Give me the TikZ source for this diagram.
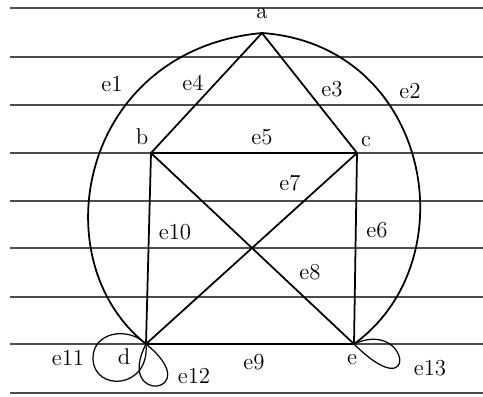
\documentclass[tikz,border=0pt]{standalone}
\usepackage{tikz}
\begin{document}
\begin{tikzpicture}[x=0.02cm, y=-0.02cm,
    rule/.style={line width=1.1pt, black!70},
    edge/.style={line width=1pt},
    loopedge/.style={line width=0.7pt},
    lbl/.style={font=\fontsize{13}{15}\selectfont, inner sep=0pt}]
  \useasboundingbox[fill=white] (0,0) rectangle (483,396);

  % ruled paper
  \foreach \y in {8,57,105,153,201,248,297,344,393}
    \draw[rule] (10,\y) -- (483,\y);

  \coordinate (a) at (262,33);
  \coordinate (b) at (151,153);
  \coordinate (c) at (357,153);
  \coordinate (d) at (146,344);
  \coordinate (e) at (354,344);

  % outer arcs
  \draw[edge] (d) .. controls (40,260) and (80,50) .. (a);
  \draw[edge] (a) .. controls (430,45) and (470,260) .. (e);

  \draw[edge] (a) -- (b);
  \draw[edge] (a) -- (c);
  \draw[edge] (b) -- (c);
  \draw[edge] (b) -- (d);
  \draw[edge] (c) -- (e);
  \draw[edge] (c) -- (d);
  \draw[edge] (b) -- (e);
  \draw[edge] (d) -- (e);

  % self loops
  \draw[loopedge] (d) .. controls +(-18,-18) and +(0,-26) .. (93,358)
    .. controls +(0,34) and +(4,46) .. (d);
  \draw[loopedge] (d) .. controls +(-32,62) and +(62,50) .. (d);
  \draw[loopedge] (e) .. controls +(56,-26) and +(66,66) .. (e);

  % vertex labels
  \node[lbl] (la) at (262,14) {a};
  \node[lbl] (lb) at (142,137) {b};
  \node[lbl] (lc) at (366,142) {c};
  \node[lbl] (ld) at (124,357) {d};
  \node[lbl] (le) at (352,360) {e};

  % edge labels
  \node[lbl] (e1) at (112,84) {e1};
  \node[lbl] (e2) at (410,91) {e2};
  \node[lbl] (e3) at (332,89) {e3};
  \node[lbl] (e4) at (193,83) {e4};
  \node[lbl] (e5) at (262,137) {e5};
  \node[lbl] (e6) at (377,230) {e6};
  \node[lbl] (e7) at (290,183) {e7};
  \node[lbl] (e8) at (310,272) {e8};
  \node[lbl] (e9) at (254,362) {e9};
  \node[lbl] (e10) at (175,232) {e10};
  \node[lbl] (e11) at (68,358) {e11};
  \node[lbl] (e12) at (194,376) {e12};
  \node[lbl] (e13) at (430,368) {e13};
\end{tikzpicture}
\end{document}
